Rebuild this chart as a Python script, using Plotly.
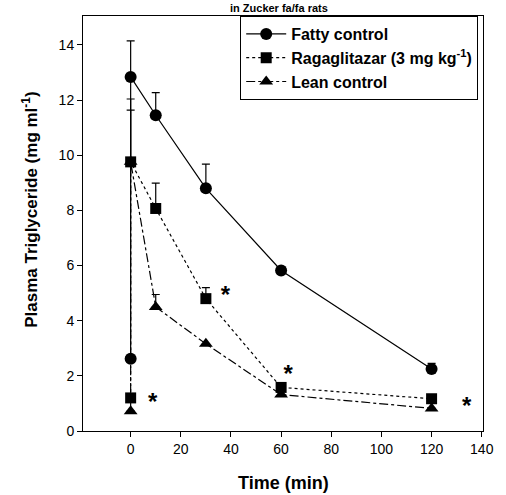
import plotly.graph_objects as go

time = [0, 0, 10, 30, 60, 120]

fatty = [2.62, 12.84, 11.45, 8.80, 5.82, 2.25]
fatty_err = [0, 1.31, 0.82, 0.88, 0.12, 0.2]

raga = [1.20, 9.76, 8.07, 4.80, 1.58, 1.17]
raga_err = [0, 2.28, 0.92, 0.40, 0, 0]

lean = [0.72, 9.76, 4.50, 3.16, 1.32, 0.82]
lean_err = [0, 1.88, 0.45, 0, 0, 0]

star_x = [8.8, 37.8, 62.8, 134.0]
star_y = [0.98, 4.87, 2.0, 0.84]

x_ticks = [0, 20, 40, 60, 80, 100, 120, 140]
y_ticks = [0, 2, 4, 6, 8, 10, 12, 14]

font = "Liberation Sans, Arial, sans-serif"

fig = go.Figure()

def add(y, err, name, symbol, dash, size):
    fig.add_trace(go.Scatter(
        x=time, y=y, name=name, mode="lines+markers",
        line=dict(color="black", width=1.2, dash=dash),
        marker=dict(symbol=symbol, size=size, color="black"),
        error_y=dict(type="data", array=err, arrayminus=[0]*len(err), symmetric=False,
                     color="black", thickness=1.2, width=4),
    ))

add(fatty, fatty_err, "<b>Fatty control</b>", "circle", "solid", 12)
add(raga, raga_err, "<b>Ragaglitazar (3 mg kg<sup>-1</sup>)</b>", "square", "dot", 11)
add(lean, lean_err, "<b>Lean control</b>", "triangle-up", "dashdot", 12)

fig.add_trace(go.Scatter(
    x=star_x, y=star_y, mode="text", text=["<b>*</b>"] * len(star_x),
    textfont=dict(size=24, color="black", family=font), showlegend=False,
    textposition="middle center",
))

axis_common = dict(showgrid=False, zeroline=False, showline=True, linecolor="black",
                   linewidth=1, mirror=True, ticks="outside", ticklen=5, tickcolor="black",
                   tickfont=dict(size=14, color="black", family=font))

fig.update_xaxes(range=[-19, 140.5], tickvals=x_ticks, **axis_common)
fig.update_yaxes(range=[0, 15.05], tickvals=y_ticks, **axis_common)

fig.update_layout(
    width=506, height=495,
    margin=dict(l=83, r=14, t=16, b=64),
    plot_bgcolor="white", paper_bgcolor="white",
    font=dict(family=font, color="black", size=14),
    legend=dict(x=0.988, y=1, xanchor="right", yanchor="top", itemwidth=40,
                bordercolor="black", borderwidth=1, bgcolor="white",
                font=dict(size=16, family=font)),
    annotations=[
        dict(text="<b>in Zucker fa/fa rats</b>", xref="paper", yref="paper",
             x=0.489, y=1, yshift=0, xanchor="center", yanchor="bottom", showarrow=False,
             font=dict(size=11, family=font)),
        dict(text="<b>Time (min)</b>", xref="paper", yref="paper",
             x=0.5, y=0, yshift=-52, xanchor="center", yanchor="middle", showarrow=False,
             font=dict(size=18, family=font)),
        dict(text="<b>Plasma Triglyceride (mg ml<sup>-1</sup>)</b>", xref="paper", yref="paper",
             x=0, xshift=-53, y=0.533, xanchor="center", yanchor="middle", showarrow=False,
             textangle=-90, font=dict(size=17, family=font)),
    ],
)

fig.write_html("out.html")
